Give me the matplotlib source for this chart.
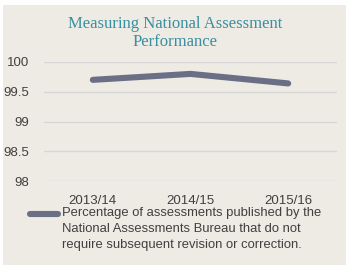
import matplotlib
matplotlib.use("Agg")
import matplotlib.pyplot as plt
from matplotlib.patches import Rectangle
from matplotlib.lines import Line2D

categories = ["2013/14", "2014/15", "2015/16"]
values = [99.70, 99.80, 99.64]
yticks = [98, 98.5, 99, 99.5, 100]
ytick_labels = ["98", "98.5", "99", "99.5", "100"]
title = "Measuring National Assessment\nPerformance"
series_label = ("Percentage of assessments published by the\n"
                "National Assessments Bureau that do not\n"
                "require subsequent revision or correction.")

W, H = 349, 268
fig = plt.figure(figsize=(W / 100, H / 100), dpi=100, facecolor="white")
panel_color = "#EEEAE4"
fig.add_artist(Rectangle((3 / W, 3 / H), (346 - 3) / W, (263 - 3) / H,
                         transform=fig.transFigure, facecolor=panel_color,
                         edgecolor="none", zorder=-10))

ax = fig.add_axes([44 / W, 1 - 181 / H, (337 - 44) / W, (181 - 62) / H])
ax.set_facecolor("none")
ax.set_zorder(1)
x = list(range(len(categories)))
line_color = "#6B6F85"
ax.plot(x, values, color=line_color, lw=4.4, solid_capstyle="round",
        solid_joinstyle="round", clip_on=False, zorder=3)
ax.set_xlim(-0.5, len(categories) - 0.5)
ax.set_ylim(98, 100)
ax.set_yticks(yticks)
ax.set_yticklabels(ytick_labels)
ax.set_xticks(x)
ax.set_xticklabels(categories)
ax.grid(axis="y", color="#D6D6D6", lw=0.9)
ax.set_axisbelow(True)
for s in ax.spines.values():
    s.set_visible(False)
ax.tick_params(length=0, labelsize=9.5, labelcolor="#404040",
               labelfontfamily="Liberation Sans")
ax.tick_params(axis="x", pad=10)
ax.tick_params(axis="y", pad=11)

fig.text(175 / W, 1 - 16 / H, title, ha="center", va="top",
         fontsize=12, color="#3A8FA0", family="Liberation Serif",
         linespacing=1.2)

fig.lines.append(Line2D([30 / W, 58 / W], [1 - 214 / H, 1 - 214 / H],
                        transform=fig.transFigure, color=line_color, lw=4.4,
                        solid_capstyle="round"))
fig.text(62 / W, 1 - 207 / H, series_label, ha="left", va="top",
         fontsize=9.4, color="#404040", family="Liberation Sans",
         linespacing=1.45)

fig.savefig("out.png", dpi=100, facecolor="white")
